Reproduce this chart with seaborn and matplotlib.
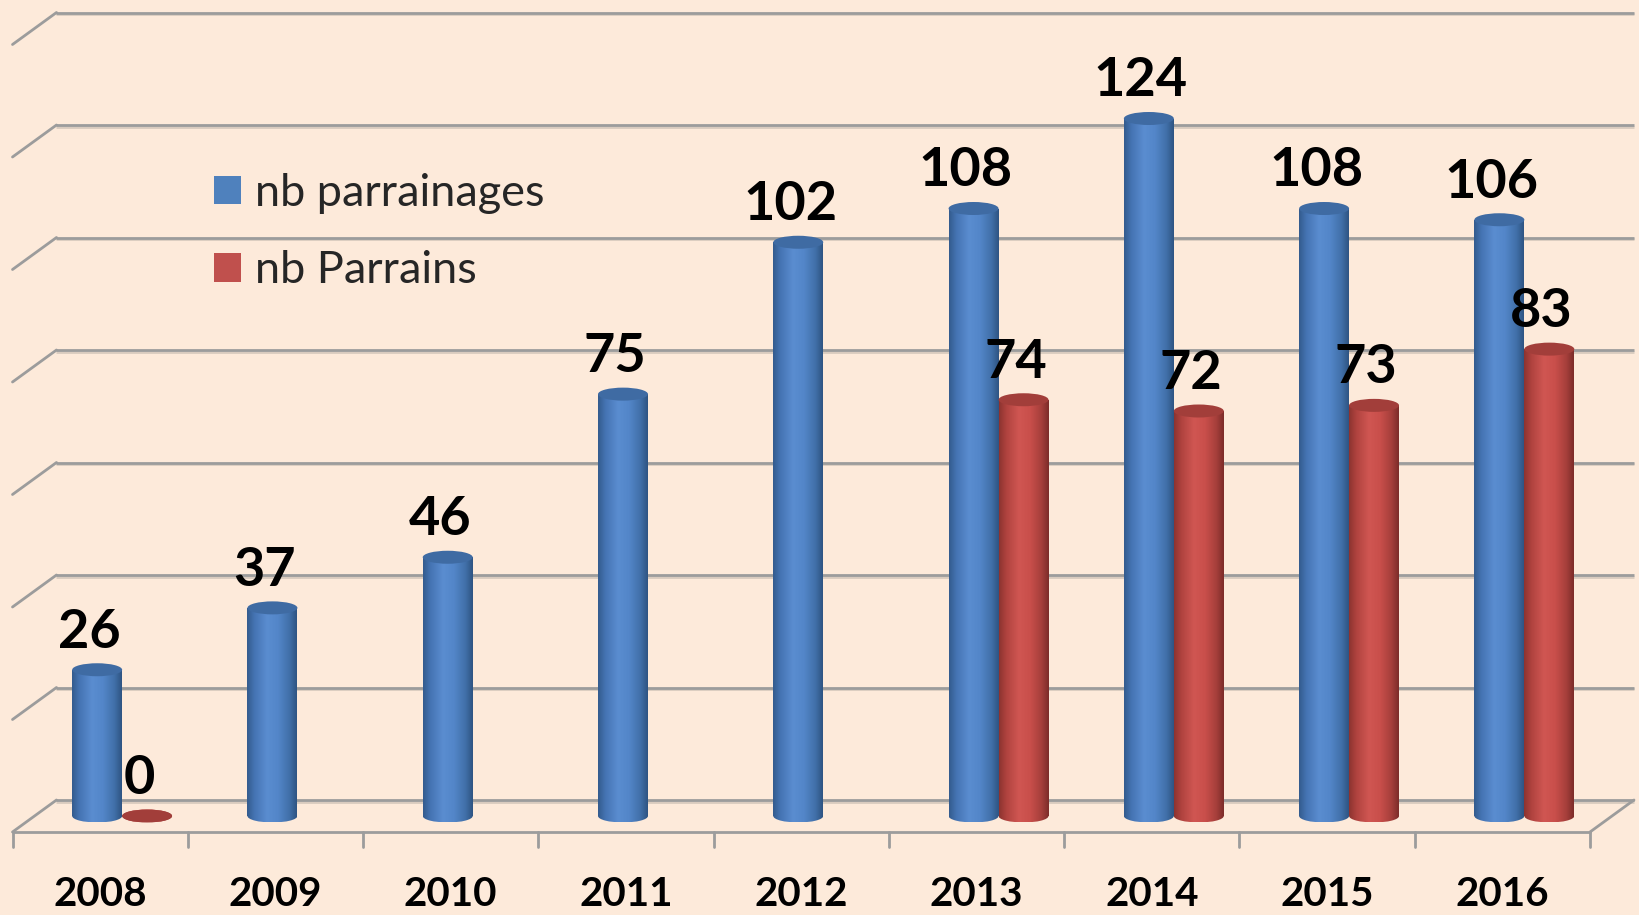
import numpy as np
import pandas as pd
import matplotlib
matplotlib.use("Agg")
import matplotlib.pyplot as plt
import seaborn as sns
from matplotlib.patches import Ellipse, Patch
from matplotlib.colors import LinearSegmentedColormap

# ---------------- data ----------------
years = ["2008", "2009", "2010", "2011", "2012", "2013", "2014", "2015", "2016"]
parrainages = [26, 37, 46, 75, 102, 108, 124, 108, 106]
parrains = [0, np.nan, np.nan, np.nan, np.nan, 74, 72, 73, 83]
series = ["nb parrainages", "nb Parrains"]
grid_values = [0, 20, 40, 60, 80, 100, 120, 140]

BG = "#FDEADA"
BLUE = "#4F81BD"
RED = "#C0504D"

rows = []
for y, a, b in zip(years, parrainages, parrains):
    rows.append((y, series[0], a))
    if not np.isnan(b):
        rows.append((y, series[1], b))
df = pd.DataFrame(rows, columns=["year", "serie", "value"])

sns.set_theme(style="white")
plt.rcParams["font.family"] = ["Lato", "DejaVu Sans"]

W, H = 1640, 915
fig = plt.figure(figsize=(W / 100, H / 100), dpi=100)
fig.patch.set_facecolor(BG)

# bar plane geometry (pixels)
left_px, right_px = 34.5, 1612.0
base_px, top_px = 816.0, 28.5
pad_px = 14.0  # room below the value-0 line for the cylinders' bottoms
XMIN, XMAX, YMAX = -0.5, 8.5, 140
px_per_x = (right_px - left_px) / (XMAX - XMIN)
px_per_y = (base_px - top_px) / YMAX
YMIN = -pad_px / px_per_y

ax = fig.add_axes([left_px / W, (H - base_px - pad_px) / H,
                   (right_px - left_px) / W, (base_px + pad_px - top_px) / H])
ax.set_facecolor("none")

sns.barplot(data=df, x="year", y="value", hue="serie", order=years,
            hue_order=series, palette=[BLUE, RED], width=0.57,
            saturation=1, legend=False, ax=ax, zorder=3, linewidth=0)

ax.set_xlim(XMIN, XMAX)
ax.set_ylim(YMIN, YMAX)
ax.axis("off")

DX = 22 / px_per_x
DY = 16 / px_per_y
RY = 6.5 / px_per_y

GRID = "#9c9c9c"
SHADOW = "#d9cbbf"
# back wall gridlines + left diagonals
for v in grid_values:
    ax.plot([XMIN + DX, XMAX + DX], [v + DY - 1.6 / px_per_y] * 2, color=SHADOW,
            lw=2, zorder=0.9, clip_on=False, solid_capstyle="butt")
    ax.plot([XMIN + DX, XMAX + DX], [v + DY, v + DY], color=GRID, lw=2,
            zorder=1, clip_on=False, solid_capstyle="butt")
    ax.plot([XMIN - DX, XMIN + DX], [v - DY, v + DY], color=GRID, lw=2,
            zorder=1, clip_on=False)
# floor front edge + right edge
ax.plot([XMIN - DX, XMAX - DX], [-DY, -DY], color=GRID, lw=2, zorder=1, clip_on=False)
ax.plot([XMAX - DX, XMAX + DX], [-DY, DY], color=GRID, lw=2, zorder=1, clip_on=False)
# tick marks
for i in range(len(years) + 1):
    xx = XMIN + i - DX
    ax.plot([xx, xx], [-DY, -DY - 15 / px_per_y], color=GRID, lw=2,
            zorder=1, clip_on=False)

cmaps = {
    series[0]: LinearSegmentedColormap.from_list(
        "b", [(0, "#335b8d"), (0.15, "#4574b3"), (0.4, "#5a8dd0"),
              (0.62, "#5386c9"), (0.85, "#4170a9"), (1, "#2e5482")]),
    series[1]: LinearSegmentedColormap.from_list(
        "r", [(0, "#8c3330"), (0.15, "#b0433f"), (0.4, "#d05652"),
              (0.62, "#c94f4b"), (0.85, "#a63f3b"), (1, "#7c2c29")]),
}
tops = {series[0]: "#3f6ba3", series[1]: "#a23e3a"}
grad = np.linspace(0, 1, 256).reshape(1, -1)

for cont, s in zip(ax.containers, series):
    for p in cont.patches:
        h = p.get_height()
        if h is None or np.isnan(h):
            continue
        x, w = p.get_x(), p.get_width()
        cx = x + w / 2
        im = ax.imshow(grad, extent=(x, x + w, 0, max(h, 1e-6)), cmap=cmaps[s],
                       aspect="auto", zorder=3, interpolation="bilinear")
        im.set_clip_path(p)
        bot = Ellipse((cx, 0), w, 2 * RY, facecolor="none", edgecolor="none")
        ax.add_patch(bot)
        im2 = ax.imshow(grad, extent=(x, x + w, -RY, RY), cmap=cmaps[s],
                        aspect="auto", zorder=3, interpolation="bilinear")
        im2.set_clip_path(bot)
        ax.add_patch(Ellipse((cx, h), w, 2 * RY, facecolor=tops[s],
                             edgecolor="none", zorder=4, clip_on=False))
        ax.text(cx - 8 / px_per_x, h + 22 / px_per_y, f"{int(h)}",
                ha="center", va="baseline", fontsize=39, fontweight="bold",
                color="black", zorder=5)

ax.set_xlim(XMIN, XMAX)
ax.set_ylim(YMIN, YMAX)

# category labels on the front edge
for i, y in enumerate(years):
    ax.text(i - DX, -DY - (895 - 832) / px_per_y, y, ha="center", va="center",
            fontsize=29, fontweight="bold", color="black", clip_on=False)

handles = [Patch(facecolor=BLUE, edgecolor="none"), Patch(facecolor=RED, edgecolor="none")]
fig.legend(handles, series, loc="upper left",
           bbox_to_anchor=(214 / W, 1 - 173 / H), frameon=False,
           prop={"family": "Lato", "size": 32.5}, handlelength=0.6,
           handleheight=0.6, handletextpad=0.3, labelspacing=0.8,
           borderpad=0, borderaxespad=0)

fig.savefig("out.png", dpi=100, facecolor=BG)
